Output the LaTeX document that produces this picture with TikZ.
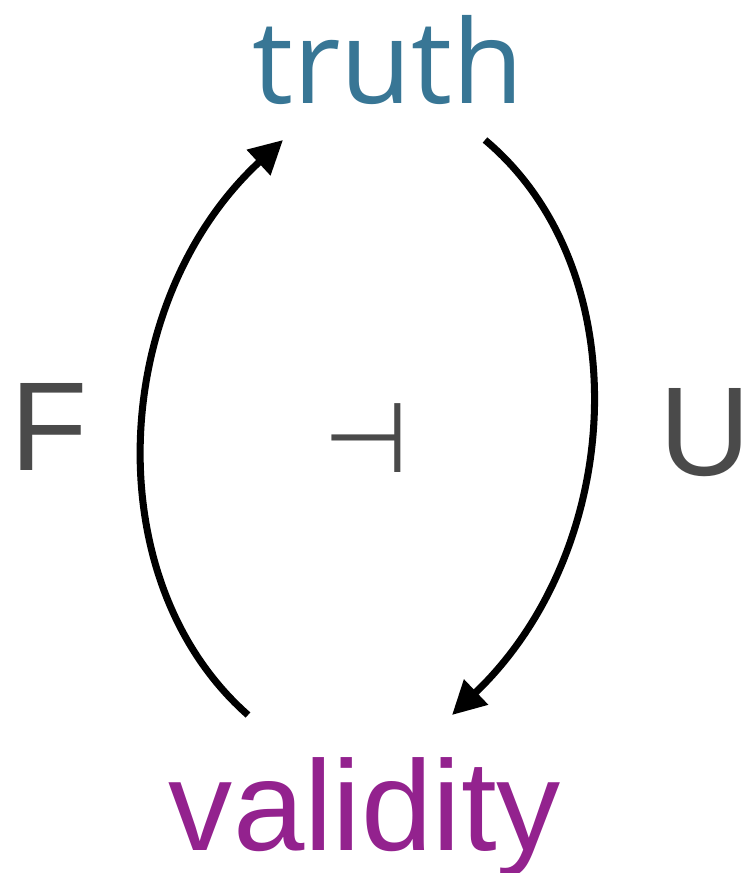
\documentclass[tikz,border=0pt]{standalone}
\usepackage{fontspec}
\setmainfont{Liberation Sans}
\newfontfamily\truthfont{Open Sans}
\newfontfamily\symfont{DejaVu Sans}
\usetikzlibrary{arrows.meta}
\definecolor{truthblue}{HTML}{387695}
\definecolor{validpurple}{HTML}{93228E}
\definecolor{labelgray}{HTML}{4A4A4A}
\tikzset{
  word/.style={inner sep=0pt, anchor=base},
  adjarrow/.style={line width=4pt, -{Triangle[length=19pt, width=19pt]}},
}
\begin{document}
\begin{tikzpicture}[x=0.02cm, y=-0.02cm]
    \useasboundingbox (0,0) rectangle (747,873);

    \node[word, text=truthblue] (truth) at (388,103) {\truthfont\fontsize{66}{78}\selectfont truth};
    \node[word, text=validpurple] (validity) at (365,850) {\fontsize{73}{86}\selectfont validity};
    \node[word, text=labelgray] (F) at (49,470) {\fontsize{72}{86}\selectfont F};
    \node[word, text=labelgray] (U) at (705,475) {\fontsize{72}{86}\selectfont U};
    \node[inner sep=0pt, text=labelgray] (adj) at (366,438) {\symfont\fontsize{56}{66}\selectfont ⊣};

    % arrow ends near the words
    \coordinate (F start) at (248,715);
    \coordinate (F end) at (283,140);
    \coordinate (U start) at (485,140);
    \coordinate (U end) at (452,715);

    \draw[adjarrow] (F start) .. controls (95,580) and (110,300) .. (F end);
    \draw[adjarrow] (U start) .. controls (640,270) and (625,550) .. (U end);
\end{tikzpicture}
\end{document}
